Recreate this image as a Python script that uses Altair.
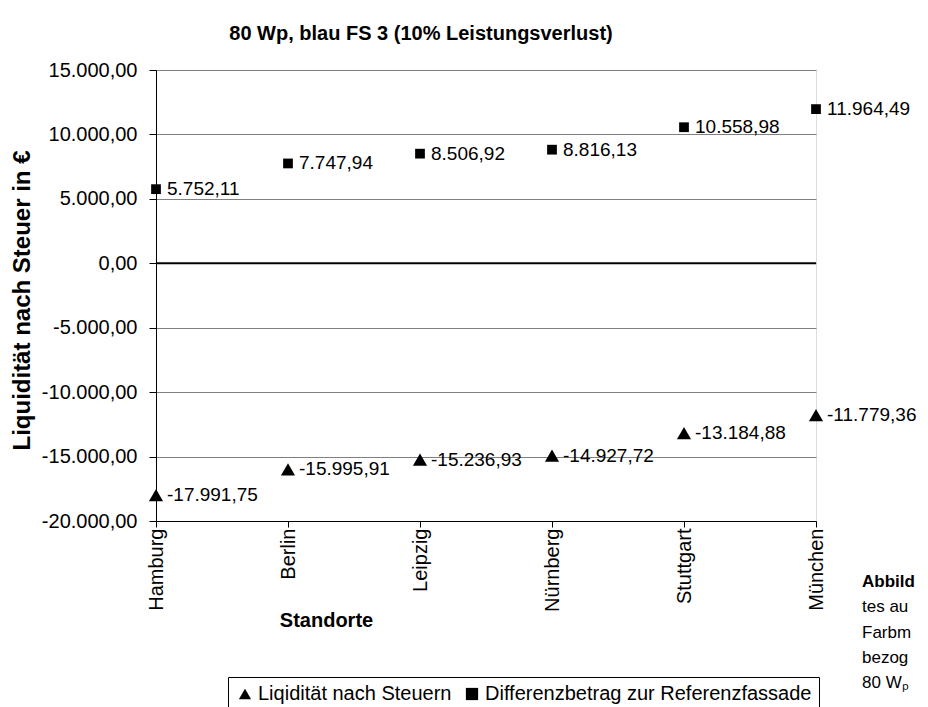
import altair as alt
import pandas as pd

# ---- data ----
standorte = ["Hamburg", "Berlin", "Leipzig", "Nürnberg", "Stuttgart", "München"]
liquiditaet = [-17991.75, -15995.91, -15236.93, -14927.72, -13184.88, -11779.36]
differenz = [5752.11, 7747.94, 8506.92, 8816.13, 10558.98, 11964.49]
serien = ["Liqidität nach Steuern", "Differenzbetrag zur Referenzfassade"]
y_ticks = [-20000, -15000, -10000, -5000, 0, 5000, 10000, 15000]
seitentext = ["Abbild", "tes au", "Farbm", "bezog", "80 Wₚ"]

FONT = "Liberation Sans"
FS = 20


def de_fmt(v):
    s = f"{v:,.2f}"
    return s.replace(",", "_").replace(".", ",").replace("_", ".")


rows = []
for i, c in enumerate(standorte):
    rows.append({"Standort": c, "Serie": serien[0], "Wert": liquiditaet[i], "Label": de_fmt(liquiditaet[i])})
    rows.append({"Standort": c, "Serie": serien[1], "Wert": differenz[i], "Label": de_fmt(differenz[i])})
df = pd.DataFrame(rows)

x_enc = alt.X(
    "Standort:N",
    sort=standorte,
    scale=alt.Scale(type="point", padding=0),
    axis=alt.Axis(
        title="Standorte",
        titleFont=FONT, titleFontSize=FS, titleFontWeight="bold", titleColor="black",
        titleX=170, titleY=99, titleAlign="center", titleBaseline="middle", titleAngle=0,
        labelAngle=-90, labelAlign="right", labelBaseline="middle",
        labelFont=FONT, labelFontSize=FS, labelColor="black", labelPadding=1,
        domainColor="black", tickColor="black", tickSize=6, grid=False,
    ),
)
y_enc = alt.Y(
    "Wert:Q",
    scale=alt.Scale(domain=[-20000, 15000], nice=False, zero=False),
    axis=alt.Axis(
        title="Liquidität nach Steuer in €",
        titleFont=FONT, titleFontSize=24, titleFontWeight="bold", titleColor="black",
        titleX=-134, titleY=230, titleBaseline="middle", titleAlign="center",
        values=y_ticks,
        labelExpr="(datum.value < 0 ? '-' : '') + replace(format(abs(datum.value), ','), ',', '.') + ',00'",
        labelFont=FONT, labelFontSize=FS, labelColor="black", labelPadding=12,
        domainColor="black", tickColor="black", tickSize=7,
        grid=True, gridColor="#808080", gridWidth=1,
    ),
)

base = alt.Chart(df)

points = base.mark_point(filled=True, color="black", opacity=1).encode(
    x=x_enc,
    y=y_enc,
    shape=alt.Shape(
        "Serie:N",
        sort=serien,
        scale=alt.Scale(domain=serien, range=["triangle-up", "square"]),
        legend=alt.Legend(
            title=None, orient="none", legendX=72, legendY=607,
            direction="horizontal", strokeColor="black", fillColor="white",
            padding=7, labelFont=FONT, labelFontSize=FS, labelColor="black",
            labelLimit=0,
            symbolFillColor="black", symbolStrokeColor="black", symbolSize=150,
            columnPadding=10, labelOffset=3, cornerRadius=0,
        ),
    ),
    size=alt.condition(f"datum.Serie == '{serien[0]}'", alt.value(200), alt.value(95)),
)

labels = base.mark_text(align="left", baseline="middle", dx=11, font=FONT, fontSize=19, color="black").encode(
    x=alt.X("Standort:N", sort=standorte),
    y="Wert:Q",
    text="Label:N",
)

zero = alt.Chart(pd.DataFrame({"Wert": [0]})).mark_rule(color="black", strokeWidth=2).encode(y="Wert:Q")

side_layers = []
for i, t in enumerate(seitentext):
    side_layers.append(
        alt.Chart(pd.DataFrame({"t": [t]})).mark_text(
            align="left", baseline="middle", font=FONT, fontSize=17, color="black",
            fontWeight="bold" if i == 0 else "normal",
        ).encode(text="t:N", x=alt.value(706), y=alt.value(512 + i * 25.3))
    )

chart = (
    alt.layer(zero, points, labels, *side_layers)
    .properties(
        width=660,
        height=451,
        autosize=alt.AutoSizeParams(type="none"),
        padding={"left": 148, "top": 62, "right": 104, "bottom": 186},
        title=alt.Title(
            "80 Wp, blau FS 3 (10% Leistungsverlust)",
            font=FONT, fontSize=FS, fontWeight="bold", color="black",
            anchor="middle", dx=-65, offset=16,
        ),
    )
    .configure_view(stroke="#808080", strokeWidth=1)
    .configure(background="white")
)

chart.save("out.html", embed_options={"renderer": "svg", "actions": False})
